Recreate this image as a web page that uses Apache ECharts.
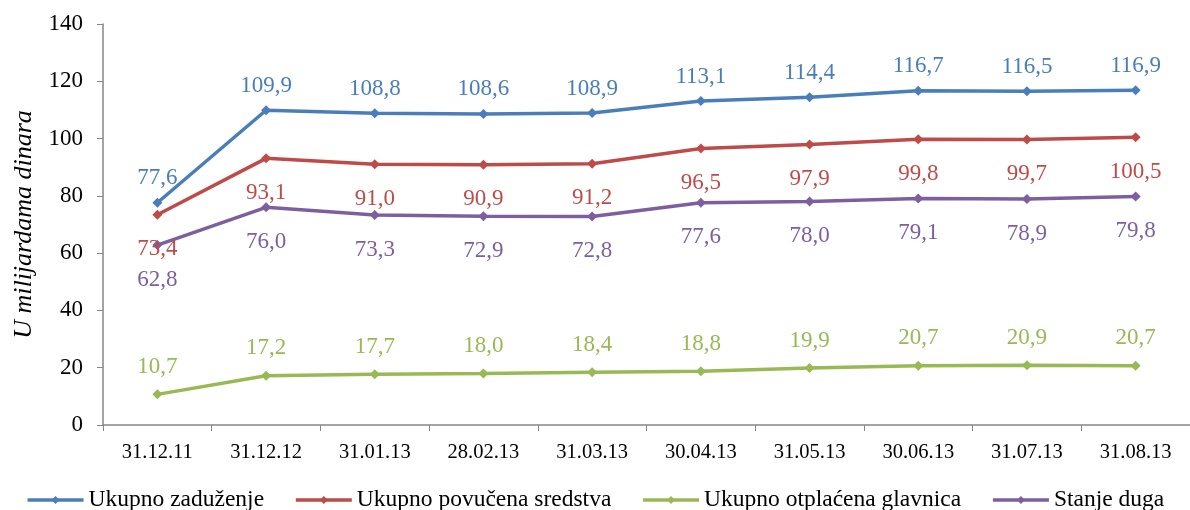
<!DOCTYPE html>
<html><head><meta charset="utf-8">
<script src="https://cdn.jsdelivr.net/npm/echarts@6/dist/echarts.min.js"></script>
<style>html,body{margin:0;padding:0;background:#fff}#c{width:1190px;height:510px}</style>
</head><body><div id="c"></div>
<script>
const categories = ['31.12.11','31.12.12','31.01.13','28.02.13','31.03.13','30.04.13','31.05.13','30.06.13','31.07.13','31.08.13'];
const ukupnoZaduzenje = [77.6,109.9,108.8,108.6,108.9,113.1,114.4,116.7,116.5,116.9];
const ukupnoPovucena = [73.4,93.1,91.0,90.9,91.2,96.5,97.9,99.8,99.7,100.5];
const ukupnoOtplacena = [10.7,17.2,17.7,18.0,18.4,18.8,19.9,20.7,20.9,20.7];
const stanjeDuga = [62.8,76.0,73.3,72.9,72.8,77.6,78.0,79.1,78.9,79.8];
const names = ['Ukupno zaduženje','Ukupno povučena sredstva','Ukupno otplaćena glavnica','Stanje duga'];
const colors = ['#4a7ebb','#be4b48','#98b954','#7d5fa0'];
const font = 'Liberation Serif';
function mk(i, data, pos, dist){
  return {name:names[i], type:'line', data:data, symbol:'diamond', symbolSize:10,
    lineStyle:{color:colors[i], width:3.5}, itemStyle:{color:colors[i]},
    label:{show:true, position:pos, distance:dist, color:colors[i], fontFamily:font, fontSize:23,
      formatter:p=>p.value.toFixed(1).replace('.',',')}};
}
const chart = echarts.init(document.getElementById('c'));
chart.setOption({
  animation:false,
  grid:{left:103, right:0, top:24, bottom:85},
  legend:{top:483, left:'center', itemWidth:56, itemHeight:10, itemGap:30,
    lineStyle:{width:3.5},
    textStyle:{fontFamily:font, fontSize:23.5, color:'#000'}, data:names},
  xAxis:{type:'category', data:categories, boundaryGap:true,
    axisLine:{lineStyle:{color:'#868686', width:1.5}},
    axisTick:{show:true, length:6, lineStyle:{color:'#868686'}},
    axisLabel:{fontFamily:font, fontSize:20.5, color:'#000', margin:17}},
  yAxis:{type:'value', min:0, max:140, interval:20,
    name:'U milijardama dinara', nameLocation:'middle', nameGap:66,
    nameTextStyle:{fontFamily:font, fontSize:26, fontStyle:'italic', color:'#000'},
    axisLine:{show:true, lineStyle:{color:'#868686', width:1.5}},
    axisTick:{show:true, length:6, lineStyle:{color:'#868686'}},
    splitLine:{show:false},
    axisLabel:{fontFamily:font, fontSize:23, color:'#000', margin:20}},
  series:[
    mk(0, ukupnoZaduzenje, 'top', 8),
    mk(1, ukupnoPovucena, 'bottom', 18),
    mk(2, ukupnoOtplacena, 'top', 11),
    mk(3, stanjeDuga, 'bottom', 18)
  ]
});
</script></body></html>
